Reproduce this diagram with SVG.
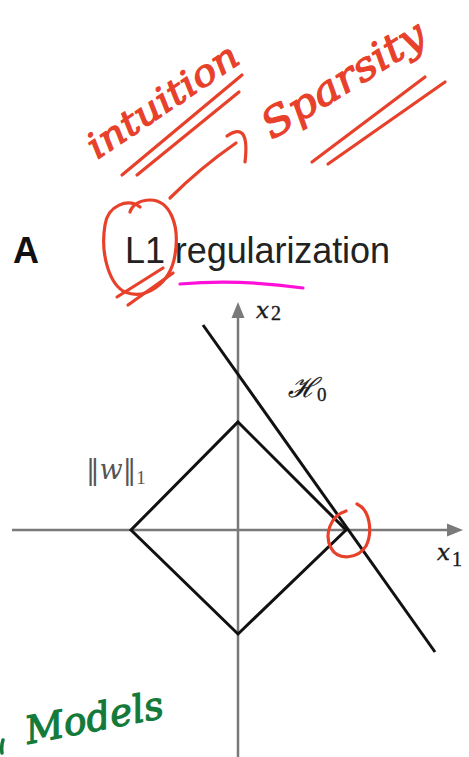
<svg xmlns="http://www.w3.org/2000/svg" width="469" height="757" viewBox="0 0 469 757">
<style>
.axis{stroke:#7a7a7a;stroke-width:2.5;fill:none}
.blk{stroke:#111;stroke-width:3;fill:none;stroke-linejoin:miter}
.red{stroke:#e8412b;stroke-width:3.2;fill:none;stroke-linecap:round;stroke-linejoin:round}
.math{font-family:"DejaVu Serif","Liberation Serif",serif;fill:#1a1a1a}
.it{font-style:italic}
.sub{font-family:"Liberation Serif",serif;font-style:normal}
.hand{font-family:"DejaVu Serif","Liberation Serif",serif;font-style:italic;stroke-width:1.2;stroke-linejoin:round}
</style>
<rect width="469" height="757" fill="#fff"/>
<g id="title">
<text x="13" y="263" font-family="Liberation Sans,Arial,sans-serif" font-weight="bold" font-size="36" fill="#111">A</text>
<text x="125" y="263" font-family="Liberation Sans,Arial,sans-serif" font-size="36" fill="#222" textLength="265">L1 regularization</text>
</g>
<g id="axes">
<line class="axis" x1="12" y1="530" x2="449" y2="530"/>
<polygon points="463,530 447,523.5 447,536.5" fill="#7a7a7a"/>
<line class="axis" x1="238" y1="316" x2="238" y2="757"/>
<polygon points="238,302 231.5,318 244.5,318" fill="#7a7a7a"/>
</g>
<g id="diamond">
<polygon class="blk" points="238,422 346,530 238,634 131,530"/>
</g>
<g id="hyperplane">
<line class="blk" x1="203" y1="325" x2="435" y2="652"/>
</g>
<g id="labels">
<text class="math" x="256" y="318" font-size="23" stroke="#1a1a1a" stroke-width="0.4"><tspan class="it">x</tspan><tspan class="sub" font-size="20" dx="2" dy="2">2</tspan></text>
<text class="math" x="288" y="397" font-size="27" stroke="#1a1a1a" stroke-width="0.3"><tspan class="it">ℋ</tspan><tspan class="sub" font-size="19" dy="4">0</tspan></text>
<text class="math" x="86" y="479" font-size="27" style="fill:#555">‖<tspan class="it">w</tspan>‖<tspan class="sub" font-size="19" dy="5">1</tspan></text>
<text class="math" x="437" y="560" font-size="23" stroke="#1a1a1a" stroke-width="0.4"><tspan class="it">x</tspan><tspan class="sub" font-size="20" dx="2" dy="6">1</tspan></text>
</g>
<g id="annotations">
<text class="hand" transform="translate(97,160) rotate(-34)" font-size="36" fill="#e8412b" stroke="#e8412b" textLength="175" lengthAdjust="spacingAndGlyphs">intuition</text>
<path class="red" d="M122,175 L242,75"/>
<path class="red" d="M137,175 L239,92"/>
<path class="red" d="M170,198 Q200,168 236,143"/>
<path class="red" d="M227,136 Q250,120 245,162"/>
<text class="hand" transform="translate(272,140) rotate(-32)" font-size="40" fill="#e8412b" stroke="#e8412b" textLength="185" lengthAdjust="spacingAndGlyphs">Sparsity</text>
<path class="red" d="M312,162 L425,77"/>
<path class="red" d="M328,164 L445,82"/>
<path class="red" d="M140,207 C128,198 108,205 105,225 C100,255 110,285 125,292 C145,300 170,285 175,255 C180,225 170,200 150,200 C140,200 132,205 130,212"/>
<path class="red" d="M117,297 L163,268"/>
<path class="red" d="M128,305 L173,273"/>
<path class="red" d="M357,504 C370,510 373,532 366,546 C358,559 338,561 331,548 C324,535 330,516 346,511"/>
<path d="M180,284 Q240,279 303,288" stroke="#ff10d8" stroke-width="3.2" fill="none" stroke-linecap="round"/>
<path d="M3,740 Q1,746 2,753" stroke="#137a3a" stroke-width="3.5" fill="none" stroke-linecap="round"/>
<text class="hand" transform="translate(28,744) rotate(-11)" font-size="38" fill="#137a3a" stroke="#137a3a" textLength="140" lengthAdjust="spacingAndGlyphs">Models</text>
</g>
</svg>
